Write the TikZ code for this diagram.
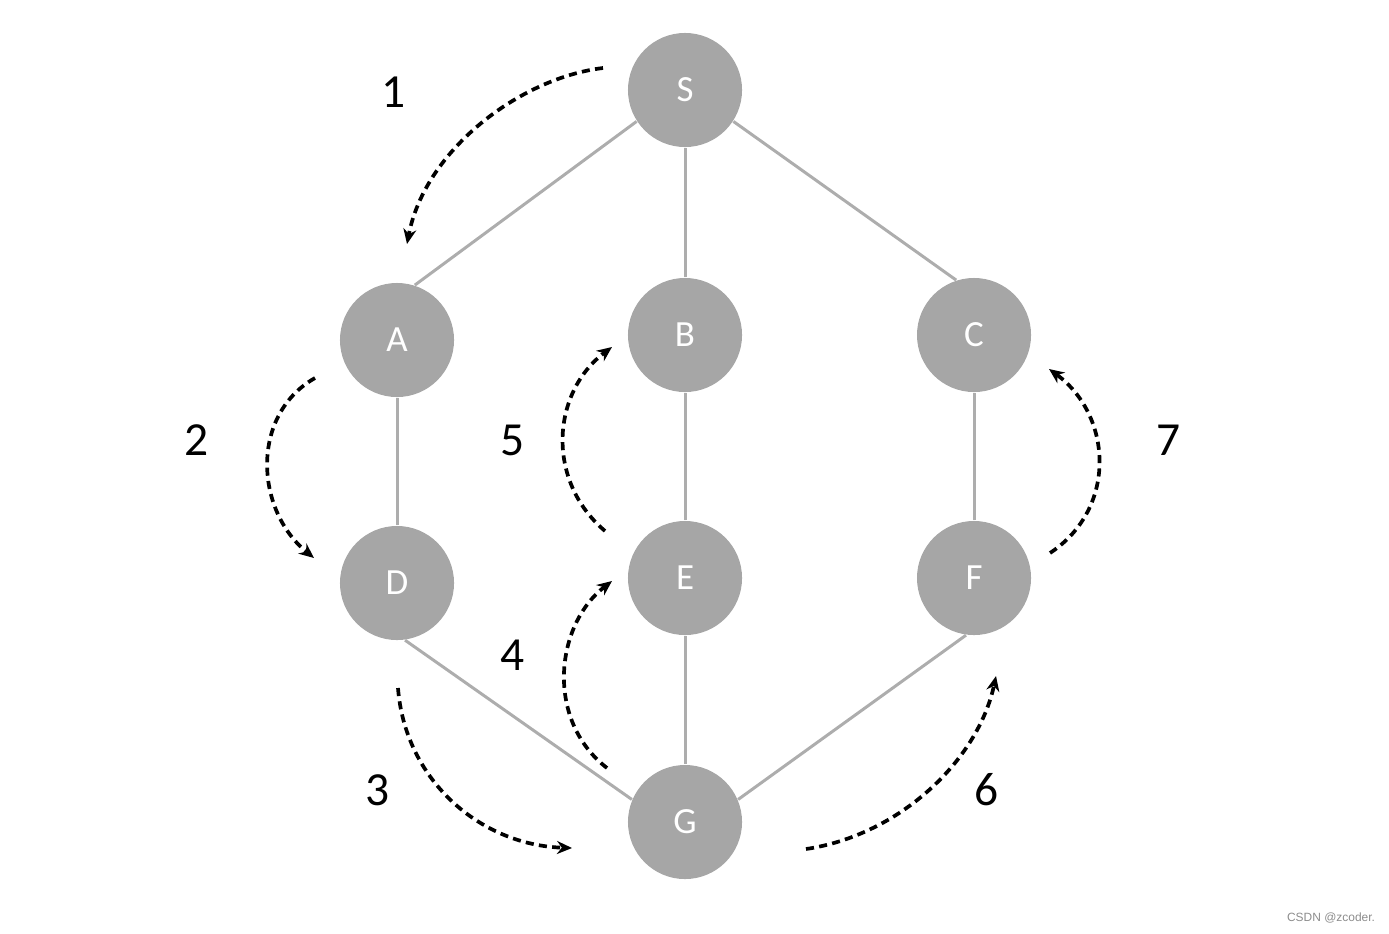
\documentclass[tikz,border=0pt]{standalone}
\usepackage{fontspec}
\setmainfont{Carlito}
\setsansfont{Liberation Sans}
\usetikzlibrary{arrows.meta}
\definecolor{NodeGray}{HTML}{A6A6A6}
\definecolor{EdgeGray}{HTML}{ADADAD}
\definecolor{MarkGray}{HTML}{8C8C8C}

\begin{document}
\begin{tikzpicture}[x=0.01cm,y=-0.01cm,
  vertex/.style={circle,fill=NodeGray,minimum size=1.14cm,inner sep=0pt,
    text=white,font=\fontsize{10.5}{12}\selectfont},
  edge/.style={draw=EdgeGray,line width=0.85pt},
  walk/.style={draw=black,line width=1.05pt,dash pattern=on 2.3pt off 1.5pt,
    -{Stealth[length=1.5mm,width=1.3mm]}},
  stepno/.style={font=\fontsize{13.5}{15}\selectfont}]
\useasboundingbox (0,0) rectangle (1389,933);
\node[vertex] (S) at (685,90) {S};
\node[vertex] (A) at (397,340) {A};
\node[vertex] (B) at (685,335) {B};
\node[vertex] (C) at (974,335) {C};
\node[vertex] (D) at (397,583) {D};
\node[vertex] (E) at (685,578) {E};
\node[vertex] (F) at (974,578) {F};
\node[vertex] (G) at (685,822) {G};
\draw[edge] (S.213) -- (A.72);
\draw[edge] (S.-33) -- (C.108);
\draw[edge] (D.-82) -- (G.157);
\draw[edge] (F.-98) -- (G.23);
\foreach \u/\v in {S/B,A/D,B/E,C/F,E/G}
  \draw[edge] (\u) -- (\v);

\coordinate (w1s) at (603,68);   \coordinate (w1e) at (407,244);
\coordinate (w2s) at (315,378);  \coordinate (w2e) at (314,558);
\coordinate (w3s) at (398,688);  \coordinate (w3e) at (572,848);
\coordinate (w4s) at (607,768);  \coordinate (w4e) at (612,581);
\coordinate (w5s) at (605,531);  \coordinate (w5e) at (612,347);
\coordinate (w6s) at (806,849);  \coordinate (w6e) at (996,676);
\coordinate (w7s) at (1050,553); \coordinate (w7e) at (1049,369);
\draw[walk] (w1s) .. controls (520,78) and (425,150) .. (w1e);
\draw[walk] (w2s) .. controls (250,415) and (255,510) .. (w2e);
\draw[walk] (w3s) .. controls (405,780) and (480,845) .. (w3e);
\draw[walk] (w4s) .. controls (545,720) and (555,625) .. (w4e);
\draw[walk] (w5s) .. controls (545,480) and (552,392) .. (w5e);
\draw[walk] (w6s) .. controls (900,835) and (978,760) .. (w6e);
\draw[walk] (w7s) .. controls (1118,508) and (1112,415) .. (w7e);

\node[stepno] (n1) at (394,92) {1};
\node[stepno] (n2) at (197,440) {2};
\node[stepno] (n3) at (378,790) {3};
\node[stepno] (n4) at (513,655) {4};
\node[stepno] (n5) at (513,440) {5};
\node[stepno] (n6) at (987,790) {6};
\node[stepno] (n7) at (1169,440) {7};
\node[text=MarkGray,font=\sffamily\fontsize{3.4}{4}\selectfont] (mark) at (1331,918) {CSDN @zcoder.};
\end{tikzpicture}
\end{document}
